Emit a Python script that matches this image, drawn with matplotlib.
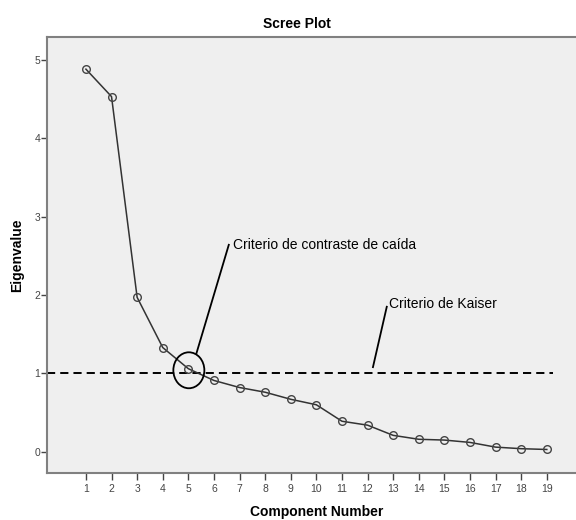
import matplotlib
matplotlib.use("Agg")
import matplotlib.pyplot as plt
from matplotlib.patches import Ellipse

plt.rcParams['font.family'] = ['Liberation Sans', 'DejaVu Sans']

# scree plot data
components = list(range(1, 20))
eigenvalues = [4.88, 4.53, 1.97, 1.33, 1.06, 0.91, 0.82, 0.76, 0.67, 0.60,
               0.39, 0.34, 0.21, 0.16, 0.15, 0.12, 0.06, 0.04, 0.03]
kaiser_value = 1.0
y_ticks = [0, 1, 2, 3, 4, 5]

title_text = "Scree Plot"
x_label = "Component Number"
y_label = "Eigenvalue"
elbow_text = "Criterio de contraste de caída"
kaiser_text = "Criterio de Kaiser"

fig = plt.figure(figsize=(5.76, 5.2), dpi=100)
ax = fig.add_axes([47 / 576, 47 / 520, 1 - 47 / 576, (473 - 37) / 520])
ax.set_facecolor('#efefef')

# Kaiser line
ax.plot([-0.52, 19.25], [kaiser_value, kaiser_value], color='black', lw=1.4,
        dashes=(4.2, 2.6), zorder=2)

ax.plot(components, eigenvalues, color='#333333', lw=1.1, marker='o',
        markersize=5.5, markerfacecolor='none', markeredgecolor='#444444',
        markeredgewidth=1.0, zorder=3)

# circle around the elbow
ax.add_patch(Ellipse((5.02, 1.04), 31 / 25.6, 36 / 78.5, fill=False,
                     edgecolor='black', lw=1.3, zorder=4))

# pointer lines and texts
ax.plot([5.32, 6.58], [1.26, 2.64], color='black', lw=1.3, zorder=4)
ax.text(6.75, 2.64, elbow_text, fontsize=10, va='center', ha='left')
ax.plot([12.21, 12.75], [1.08, 1.85], color='black', lw=1.3, zorder=4)
ax.text(12.85, 1.88, kaiser_text, fontsize=10, va='center', ha='left')

ax.set_xlim(-0.52, 20.14)
ax.set_ylim(-0.27, 5.29)
ax.set_xticks(components)
ax.set_yticks(y_ticks)
ax.tick_params(axis='both', labelsize=7.5, colors='#444444', length=4,
               width=1.0, direction='out')
ax.tick_params(axis='x', length=5, pad=3)
ax.tick_params(axis='y', pad=1)

for side in ['left', 'bottom', 'top']:
    ax.spines[side].set_color('#808080')
    ax.spines[side].set_linewidth(1.5)
ax.spines['right'].set_visible(False)

fig.text(297 / 576, 1 - 24 / 520, title_text, fontsize=10, fontweight='bold',
         ha='center', va='center')
fig.text(317 / 576, 1 - 512 / 520, x_label, fontsize=10, fontweight='bold',
         ha='center', va='center')
fig.text(17 / 576, 1 - 255 / 520, y_label, fontsize=10, fontweight='bold',
         ha='center', va='center', rotation=90)

fig.savefig("out.png", dpi=100)
